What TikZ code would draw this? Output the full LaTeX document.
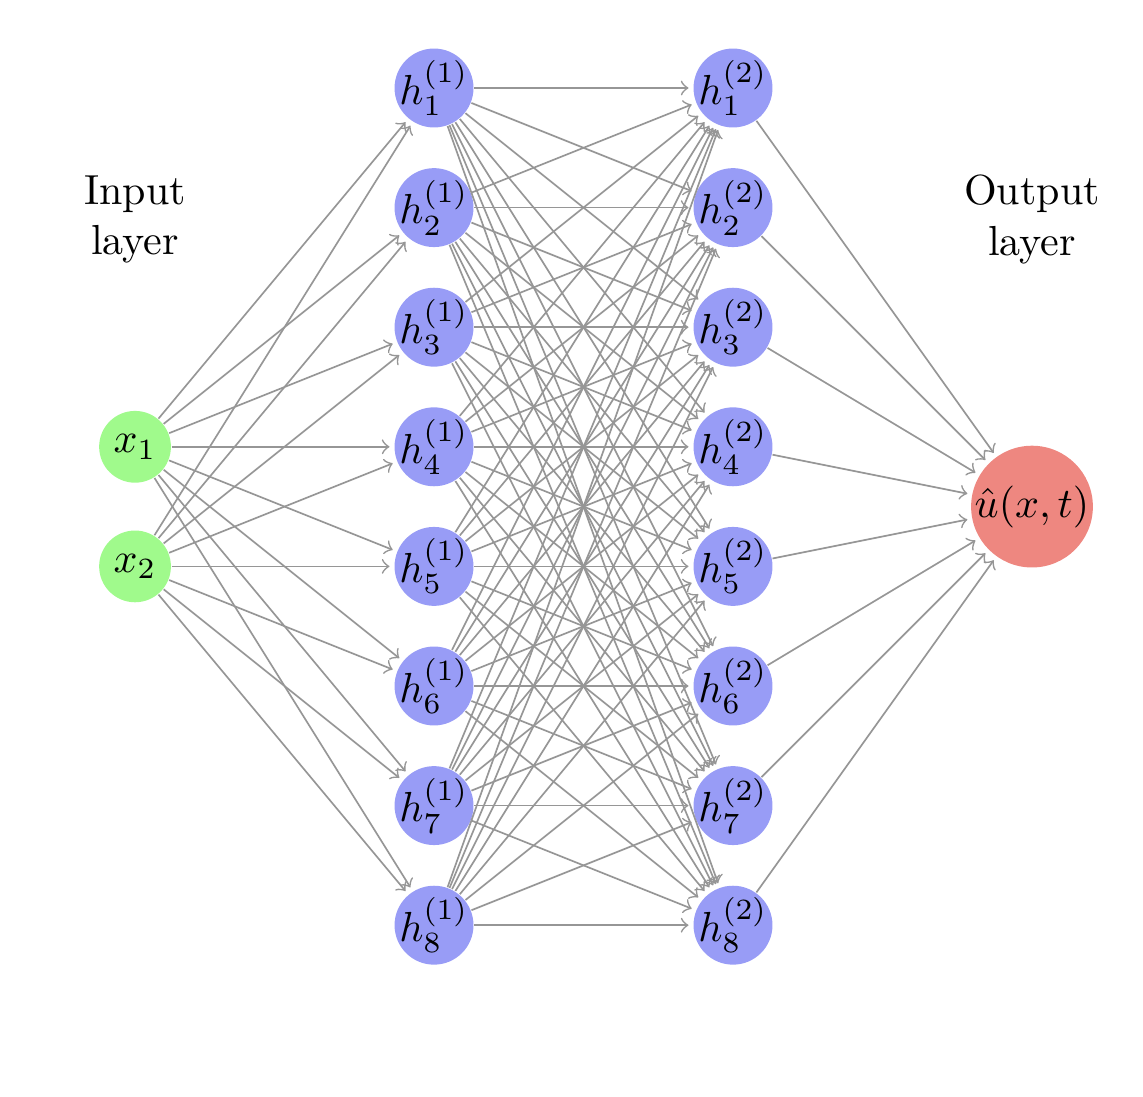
\documentclass[tikz,border=0pt]{standalone}
\usepackage{amsmath}
\usepackage{amssymb}
\usepackage{tikz}
\usetikzlibrary{arrows}

\begin{document}
\begin{tikzpicture}[
        neuron/.style={circle, inner sep=0pt},
        inneuron/.style={neuron, fill=ingreen, minimum size=0.6cm},
        hidneuron/.style={neuron, fill=hidblue, inner sep=-1.1pt, minimum size=0.66cm},
        outneuron/.style={neuron, fill=outred, minimum size=1cm},
        link/.style={->, draw=linkgray, shorten >=1pt}
    ]
        % Define colours
        \definecolor{ingreen}{RGB}{160,250,140}
        \definecolor{hidblue}{RGB}{152,156,246}
        \definecolor{outred}{RGB}{238,135,128}
        \definecolor{linkgray}{RGB}{150,150,150}
        % Fix the margins
        \useasboundingbox (-1.129,-9.436) rectangle (8.428,-0.264);

        % Input layer
        \foreach \i in {1,2} {
            \node[inneuron] (I\i) at (0,-3-\i) {$x_\i$};
        }
        % Hidden layers
        \foreach \i in {1,...,8} {
            \node[hidneuron] (A\i) at (2.5,-\i) {$h_\i^{(1)}$};
            \node[hidneuron] (B\i) at (5,-\i) {$h_\i^{(2)}$};
        }
        % Output layer
        \node[outneuron] (O) at (7.5,-4.5) {$\hat{u}(x,t)$};

        % Draw the connections
        \foreach \i in {1,2} {
            \foreach \j in {1,...,8} {
                \draw[link] (I\i) -- (A\j);
            }
        }
        \foreach \i in {1,...,8} {
            \foreach \j in {1,...,8} {
                \draw[link] (A\i) -- (B\j);
            }
            \draw[link] (B\i) -- (O);
        }

        % Layer labels
        \node[align=center] (inlabel) at (0,-2.1) {Input\\layer};
        \node[align=center] (outlabel) at (7.5,-2.1) {Output\\layer};
\end{tikzpicture}
\end{document}
